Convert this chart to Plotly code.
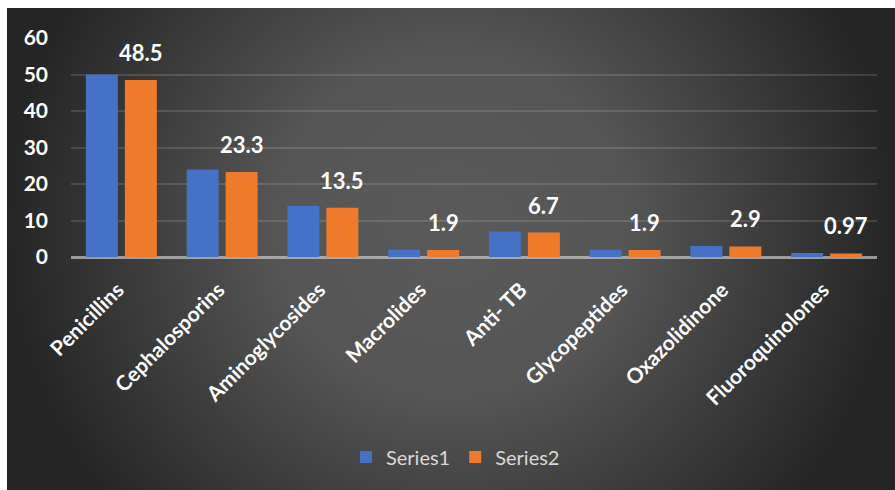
import base64
import plotly.graph_objects as go

categories = ["Penicillins", "Cephalosporins", "Aminoglycosides", "Macrolides",
              "Anti- TB", "Glycopeptides", "Oxazolidinone", "Fluoroquinolones"]
series1 = [50, 24, 14, 2, 7, 2, 3, 1.1]
series2 = [48.5, 23.3, 13.5, 1.9, 6.7, 1.9, 2.9, 0.97]
series2_labels = ["48.5", "23.3", "13.5", "1.9", "6.7", "1.9", "2.9", "0.97"]
y_ticks = [0, 10, 20, 30, 40, 50, 60]

FONT = "Lato"

svg = """<svg xmlns='http://www.w3.org/2000/svg' width='888' height='482' preserveAspectRatio='none'>
<defs><radialGradient id='g' cx='0.5' cy='0.45' r='0.5'
 gradientTransform='translate(0.5,0.45) scale(1,1.8) translate(-0.5,-0.45)'>
<stop offset='0' stop-color='#5a5a5a'/><stop offset='0.4' stop-color='#555555'/>
<stop offset='1' stop-color='#252525'/></radialGradient></defs>
<rect x='0' y='0' width='888' height='482' fill='url(#g)'/></svg>"""
bg_uri = "data:image/svg+xml;base64," + base64.b64encode(svg.encode()).decode()

fig = go.Figure()
fig.add_trace(go.Bar(name="Series1", x=categories, y=series1,
                     marker=dict(color="#4571c6", line=dict(width=0))))
fig.add_trace(go.Bar(name="Series2", x=categories, y=series2,
                     marker=dict(color="#ee7b2b", line=dict(width=0))))

for cat, val, lab in zip(categories, series2, series2_labels):
    fig.add_annotation(x=cat, y=val, text=lab, showarrow=False,
                       xshift=19.5, yshift=12, yanchor="bottom",
                       font=dict(family=FONT, size=22, color="white", weight="bold"))

W, H = 895, 490
ml, mr, mt, mb = 71, 18, 38, 233
pw, ph = W - ml - mr, H - mt - mb
x0 = (7 - ml) / pw
x1 = (W - ml) / pw
ytop = (H - mb - 8) / ph
ybot = (H - mb - H) / ph

fig.add_layout_image(dict(source=bg_uri, xref="paper", yref="paper",
                          x=x0, y=ytop, sizex=x1 - x0, sizey=ytop - ybot,
                          xanchor="left", yanchor="top", sizing="stretch",
                          layer="below"))

fig.update_layout(
    width=W, height=H,
    margin=dict(l=ml, r=mr, t=mt, b=mb),
    paper_bgcolor="white",
    plot_bgcolor="rgba(0,0,0,0)",
    barmode="group", bargap=0.226, bargroupgap=0.18,
    font=dict(family=FONT, color="white"),
    showlegend=True,
    legend=dict(orientation="h", xanchor="center", x=0.477, yanchor="middle", y=-0.913,
                font=dict(family=FONT, size=20, color="#d9d9d9"),
                bgcolor="rgba(0,0,0,0)", traceorder="normal"),
    xaxis=dict(tickangle=-45,
               tickfont=dict(family=FONT, size=21, color="white", weight="bold"),
               showgrid=False, showline=False, ticks="", ticklabelstandoff=12,
               ticksuffix="\u00a0"),
    yaxis=dict(range=[0, 60], tickvals=y_ticks,
               tickfont=dict(family=FONT, size=21, color="white", weight="bold"),
               showgrid=True, gridcolor="rgba(255,255,255,0.13)", gridwidth=2,
               zeroline=True, zerolinecolor="rgba(210,210,210,0.65)", zerolinewidth=3,
               showline=False, ticks="", ticklabelstandoff=22),
)

fig.write_html("out.html")
